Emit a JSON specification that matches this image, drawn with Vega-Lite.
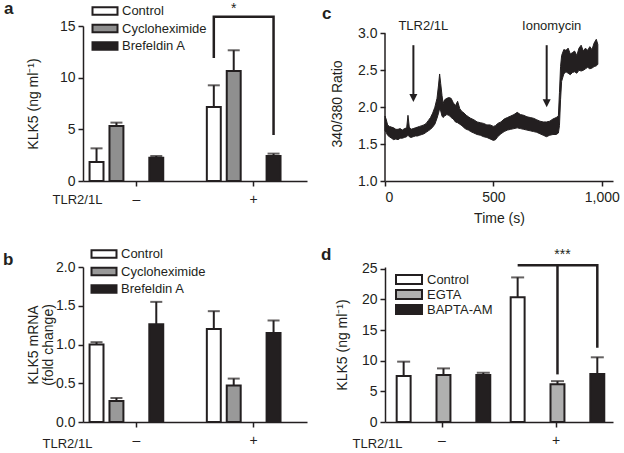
{
  "$schema": "https://vega.github.io/schema/vega-lite/v6.json",
  "padding": {"left": 3, "top": -1, "right": 0, "bottom": 0},
  "autosize": {"type": "pad"},
  "config": {
    "font": "Liberation Sans",
    "view": {"stroke": null},
    "axis": {"domainColor": "#231f20", "domainWidth": 1.5, "tickColor": "#231f20", "tickWidth": 1.5, "tickSize": 5, "labelFontSize": 14, "labelColor": "#231f20", "titleFontSize": 14, "titleFontWeight": "normal", "titleColor": "#231f20", "grid": false, "labelPadding": 3, "labelOverlap": false},
    "title": {"fontSize": 17, "fontWeight": "bold", "anchor": "start", "frame": "group", "color": "#231f20", "baseline": "alphabetic", "offset": 0},
    "legend": {"labelFontSize": 13, "labelColor": "#231f20", "padding": 0, "symbolStrokeColor": "#231f20", "symbolStrokeWidth": 2, "symbolSize": 100}
  },
  "resolve": {"scale": {"fill": "independent"}, "legend": {"fill": "independent"}},
  "datasets": {
    "a": [
      {"grp": "–", "trt": "Control", "v": 1.84, "hi": 3.16},
      {"grp": "–", "trt": "Cycloheximide", "v": 5.32, "hi": 5.65},
      {"grp": "–", "trt": "Brefeldin A", "v": 2.26, "hi": 2.42},
      {"grp": "+", "trt": "Control", "v": 7.16, "hi": 9.26},
      {"grp": "+", "trt": "Cycloheximide", "v": 10.65, "hi": 12.65},
      {"grp": "+", "trt": "Brefeldin A", "v": 2.42, "hi": 2.65}
    ],
    "b": [
      {"grp": "–", "trt": "Control", "v": 1.0, "hi": 1.03},
      {"grp": "–", "trt": "Cycloheximide", "v": 0.27, "hi": 0.31},
      {"grp": "–", "trt": "Brefeldin A", "v": 1.26, "hi": 1.55},
      {"grp": "+", "trt": "Control", "v": 1.2, "hi": 1.43},
      {"grp": "+", "trt": "Cycloheximide", "v": 0.47, "hi": 0.56},
      {"grp": "+", "trt": "Brefeldin A", "v": 1.15, "hi": 1.31}
    ],
    "d": [
      {"grp": "–", "trt": "Control", "v": 7.5, "hi": 9.85},
      {"grp": "–", "trt": "EGTA", "v": 7.66, "hi": 8.75},
      {"grp": "–", "trt": "BAPTA-AM", "v": 7.66, "hi": 8.04},
      {"grp": "+", "trt": "Control", "v": 20.35, "hi": 23.6},
      {"grp": "+", "trt": "EGTA", "v": 6.18, "hi": 6.67},
      {"grp": "+", "trt": "BAPTA-AM", "v": 7.82, "hi": 10.56}
    ],
    "trace": [
      {"t": 0, "lo": 1.68, "hi": 1.88}, {"t": 5, "lo": 1.66, "hi": 1.84}, {"t": 12, "lo": 1.62, "hi": 1.76},
      {"t": 20, "lo": 1.6, "hi": 1.74}, {"t": 30, "lo": 1.58, "hi": 1.73}, {"t": 40, "lo": 1.56, "hi": 1.72},
      {"t": 50, "lo": 1.57, "hi": 1.7}, {"t": 60, "lo": 1.56, "hi": 1.7}, {"t": 70, "lo": 1.58, "hi": 1.71},
      {"t": 80, "lo": 1.58, "hi": 1.69}, {"t": 90, "lo": 1.59, "hi": 1.71}, {"t": 100, "lo": 1.6, "hi": 1.72},
      {"t": 106, "lo": 1.62, "hi": 1.89}, {"t": 112, "lo": 1.6, "hi": 1.73}, {"t": 120, "lo": 1.59, "hi": 1.7},
      {"t": 130, "lo": 1.6, "hi": 1.71}, {"t": 140, "lo": 1.61, "hi": 1.72}, {"t": 150, "lo": 1.61, "hi": 1.73},
      {"t": 160, "lo": 1.62, "hi": 1.74}, {"t": 170, "lo": 1.63, "hi": 1.75}, {"t": 180, "lo": 1.64, "hi": 1.76},
      {"t": 190, "lo": 1.66, "hi": 1.78}, {"t": 200, "lo": 1.68, "hi": 1.82}, {"t": 210, "lo": 1.7, "hi": 1.86},
      {"t": 220, "lo": 1.73, "hi": 1.92}, {"t": 230, "lo": 1.77, "hi": 2.0}, {"t": 240, "lo": 1.85, "hi": 2.12},
      {"t": 247, "lo": 1.92, "hi": 2.3}, {"t": 252, "lo": 1.98, "hi": 2.45}, {"t": 257, "lo": 1.95, "hi": 2.32},
      {"t": 263, "lo": 1.88, "hi": 2.16}, {"t": 268, "lo": 1.86, "hi": 2.05}, {"t": 275, "lo": 1.88, "hi": 2.1},
      {"t": 285, "lo": 1.9, "hi": 2.12}, {"t": 295, "lo": 1.89, "hi": 2.13}, {"t": 305, "lo": 1.86, "hi": 2.12},
      {"t": 315, "lo": 1.84, "hi": 2.06}, {"t": 325, "lo": 1.8, "hi": 2.02}, {"t": 335, "lo": 1.79, "hi": 2.08},
      {"t": 345, "lo": 1.77, "hi": 1.98}, {"t": 355, "lo": 1.75, "hi": 1.94}, {"t": 365, "lo": 1.72, "hi": 1.92},
      {"t": 375, "lo": 1.7, "hi": 1.89}, {"t": 385, "lo": 1.69, "hi": 1.87}, {"t": 395, "lo": 1.67, "hi": 1.85},
      {"t": 410, "lo": 1.65, "hi": 1.83}, {"t": 425, "lo": 1.63, "hi": 1.8}, {"t": 440, "lo": 1.62, "hi": 1.79},
      {"t": 455, "lo": 1.6, "hi": 1.78}, {"t": 470, "lo": 1.59, "hi": 1.76}, {"t": 485, "lo": 1.57, "hi": 1.76},
      {"t": 500, "lo": 1.55, "hi": 1.74}, {"t": 510, "lo": 1.56, "hi": 1.75}, {"t": 520, "lo": 1.6, "hi": 1.78},
      {"t": 535, "lo": 1.64, "hi": 1.8}, {"t": 550, "lo": 1.67, "hi": 1.84}, {"t": 565, "lo": 1.69, "hi": 1.86},
      {"t": 580, "lo": 1.7, "hi": 1.88}, {"t": 595, "lo": 1.71, "hi": 1.9}, {"t": 610, "lo": 1.72, "hi": 1.93},
      {"t": 625, "lo": 1.71, "hi": 1.9}, {"t": 640, "lo": 1.7, "hi": 1.89}, {"t": 655, "lo": 1.69, "hi": 1.87},
      {"t": 670, "lo": 1.68, "hi": 1.86}, {"t": 685, "lo": 1.67, "hi": 1.85}, {"t": 700, "lo": 1.66, "hi": 1.83},
      {"t": 715, "lo": 1.64, "hi": 1.81}, {"t": 730, "lo": 1.62, "hi": 1.8}, {"t": 745, "lo": 1.6, "hi": 1.8},
      {"t": 760, "lo": 1.62, "hi": 1.81}, {"t": 775, "lo": 1.63, "hi": 1.84}, {"t": 790, "lo": 1.63, "hi": 1.86},
      {"t": 800, "lo": 1.65, "hi": 1.88}, {"t": 805, "lo": 1.75, "hi": 2.2}, {"t": 810, "lo": 2.1, "hi": 2.55},
      {"t": 815, "lo": 2.35, "hi": 2.7}, {"t": 825, "lo": 2.45, "hi": 2.78}, {"t": 835, "lo": 2.48, "hi": 2.77},
      {"t": 845, "lo": 2.46, "hi": 2.8}, {"t": 855, "lo": 2.44, "hi": 2.72}, {"t": 865, "lo": 2.47, "hi": 2.74},
      {"t": 875, "lo": 2.48, "hi": 2.76}, {"t": 885, "lo": 2.46, "hi": 2.7}, {"t": 895, "lo": 2.5, "hi": 2.8},
      {"t": 905, "lo": 2.49, "hi": 2.84}, {"t": 915, "lo": 2.5, "hi": 2.76}, {"t": 925, "lo": 2.52, "hi": 2.8},
      {"t": 935, "lo": 2.54, "hi": 2.77}, {"t": 945, "lo": 2.52, "hi": 2.82}, {"t": 955, "lo": 2.53, "hi": 2.78},
      {"t": 965, "lo": 2.55, "hi": 2.87}, {"t": 975, "lo": 2.56, "hi": 2.92}, {"t": 982, "lo": 2.58, "hi": 2.85}
    ]
  },
  "columns": 2,
  "spacing": {"row": 86, "column": 78},
  "bounds": "flush",
  "align": "each",
  "concat": [
    {
      "width": 224, "height": 155,
      "title": {"text": "a", "dx": -79, "dy": 19.5},
      "data": {"name": "a"},
      "encoding": {
        "x": {"field": "grp", "type": "nominal", "sort": ["–", "+"], "scale": {"paddingInner": 0.1, "paddingOuter": 0.005},
          "axis": {"title": "TLR2/1L", "titleX": -31, "titleY": 18, "titleAlign": "left", "titleBaseline": "middle", "titleFontSize": 13, "labelAngle": 0, "labelPadding": 6}},
        "xOffset": {"field": "trt", "type": "nominal", "sort": ["Control", "Cycloheximide", "Brefeldin A"], "scale": {"paddingInner": 0.3, "paddingOuter": 0.3}}
      },
      "layer": [
        {"mark": {"type": "rule", "color": "#231f20", "strokeWidth": 2},
          "encoding": {"y": {"field": "v", "type": "quantitative", "title": "KLK5 (ng ml⁻¹)", "scale": {"domain": [0, 15], "nice": false},
            "axis": {"values": [0, 5, 10, 15], "tickCount": 20, "titleX": -50, "titleBaseline": "middle"}}, "y2": {"field": "hi"}}},
        {"mark": {"type": "tick", "orient": "horizontal", "size": 12, "thickness": 2, "color": "#231f20"},
          "encoding": {"y": {"field": "hi", "type": "quantitative", "title": "KLK5 (ng ml⁻¹)", "axis": {"tickCount": 20}}}},
        {"mark": {"type": "bar", "stroke": "#231f20", "strokeWidth": 2},
          "encoding": {"y": {"field": "v", "type": "quantitative", "title": "KLK5 (ng ml⁻¹)", "axis": {"tickCount": 20}},
            "fill": {"field": "trt", "type": "nominal", "sort": ["Control", "Cycloheximide", "Brefeldin A"], "scale": {"domain": ["Control", "Cycloheximide", "Brefeldin A"], "range": ["#ffffff", "#8f8f8f", "#231f20"]},
              "legend": {"orient": "none", "legendX": 15.5, "legendY": -21.5, "title": null, "symbolType": "M-2.5,-0.75H2.5V0.75H-2.5Z", "labelOffset": 10.5, "rowPadding": 0.5}}}},
        {"data": {"values": [
          {"grp": "+", "trt": "Control", "v": 11.9, "o": 1},
          {"grp": "+", "trt": "Control", "v": 15.9, "o": 2},
          {"grp": "+", "trt": "Brefeldin A", "v": 15.9, "o": 3},
          {"grp": "+", "trt": "Brefeldin A", "v": 4.45, "o": 4}]},
          "mark": {"type": "line", "color": "#231f20", "strokeWidth": 2.5},
          "encoding": {"y": {"field": "v", "type": "quantitative", "title": "KLK5 (ng ml⁻¹)", "axis": {"tickCount": 20}}, "order": {"field": "o"}}},
        {"data": {"values": [{"grp": "+", "trt": "Cycloheximide", "v": 16.6, "s": "*"}]},
          "mark": {"type": "text", "fontSize": 14, "color": "#231f20", "baseline": "middle"},
          "encoding": {"y": {"field": "v", "type": "quantitative", "title": "KLK5 (ng ml⁻¹)", "axis": {"tickCount": 20}}, "text": {"field": "s"}}}
      ]
    },
    {
      "width": 228, "height": 155,
      "title": {"text": "c", "dx": -63, "dy": 7},
      "layer": [
        {"data": {"name": "trace"},
          "mark": {"type": "area", "color": "#231f20", "stroke": "#231f20", "strokeWidth": 1},
          "encoding": {
            "x": {"field": "t", "type": "quantitative", "title": "Time (s)", "scale": {"domain": [0, 1052], "nice": false},
              "axis": {"values": [0, 500, 1000], "tickCount": 20, "format": ",.0f", "titleY": 37, "titleBaseline": "middle", "labelPadding": 4}},
            "y": {"field": "lo", "type": "quantitative", "title": "340/380 Ratio", "scale": {"domain": [1, 3.1], "nice": false},
              "axis": {"values": [1, 1.5, 2, 2.5, 3], "tickCount": 20, "format": ".1f", "domain": false, "titleX": -48, "titleBaseline": "middle"}},
            "y2": {"field": "hi"}}},
        {"data": {"values": [{"t": 0, "a": 1, "b": 3}]},
          "mark": {"type": "rule", "color": "#231f20", "strokeWidth": 1.5},
          "encoding": {"x": {"field": "t", "type": "quantitative", "title": "Time (s)", "axis": {"tickCount": 20}}, "y": {"field": "a", "type": "quantitative", "title": "340/380 Ratio", "axis": {"tickCount": 20}}, "y2": {"field": "b"}}},
        {"data": {"values": [{"t": 131, "top": 2.84, "hy": 2.125}, {"t": 746, "top": 2.84, "hy": 2.055}]},
          "mark": {"type": "rule", "color": "#231f20", "strokeWidth": 2},
          "encoding": {"x": {"field": "t", "type": "quantitative", "title": "Time (s)", "axis": {"tickCount": 20}}, "y": {"field": "top", "type": "quantitative", "title": "340/380 Ratio", "axis": {"tickCount": 20}}, "y2": {"field": "hy"}}},
        {"data": {"values": [{"t": 131, "hy": 2.125}, {"t": 746, "hy": 2.055}]},
          "mark": {"type": "point", "shape": "M-1,-1L1,-1L0,1Z", "size": 64, "filled": true, "color": "#231f20", "opacity": 1},
          "encoding": {"x": {"field": "t", "type": "quantitative", "title": "Time (s)", "axis": {"tickCount": 20}}, "y": {"field": "hy", "type": "quantitative", "title": "340/380 Ratio", "axis": {"tickCount": 20}}}},
        {"data": {"values": [{"t": 177, "y": 3.1, "s": "TLR2/1L"}, {"t": 769, "y": 3.1, "s": "Ionomycin"}]},
          "mark": {"type": "text", "fontSize": 13, "color": "#231f20", "baseline": "middle"},
          "encoding": {"x": {"field": "t", "type": "quantitative", "title": "Time (s)", "axis": {"tickCount": 20}}, "y": {"field": "y", "type": "quantitative", "title": "340/380 Ratio", "axis": {"tickCount": 20}}, "text": {"field": "s"}}}
      ]
    },
    {
      "width": 224, "height": 155,
      "title": {"text": "b", "dx": -80, "dy": 25},
      "data": {"name": "b"},
      "encoding": {
        "x": {"field": "grp", "type": "nominal", "sort": ["–", "+"], "scale": {"paddingInner": 0.1, "paddingOuter": 0.005},
          "axis": {"title": "TLR2/1L", "titleX": -41, "titleY": 21, "titleAlign": "left", "titleBaseline": "middle", "titleFontSize": 13, "labelAngle": 0, "labelPadding": 6}},
        "xOffset": {"field": "trt", "type": "nominal", "sort": ["Control", "Cycloheximide", "Brefeldin A"], "scale": {"paddingInner": 0.3, "paddingOuter": 0.3}}
      },
      "layer": [
        {"mark": {"type": "rule", "color": "#231f20", "strokeWidth": 2},
          "encoding": {"y": {"field": "v", "type": "quantitative", "title": ["KLK5 mRNA", "(fold change)"], "scale": {"domain": [0, 2], "nice": false},
            "axis": {"values": [0, 0.5, 1, 1.5, 2], "tickCount": 20, "format": ".1f", "titleX": -50, "titleBaseline": "middle", "titleLineHeight": 15}}, "y2": {"field": "hi"}}},
        {"mark": {"type": "tick", "orient": "horizontal", "size": 12, "thickness": 2, "color": "#231f20"},
          "encoding": {"y": {"field": "hi", "type": "quantitative", "title": ["KLK5 mRNA", "(fold change)"], "axis": {"tickCount": 20}}}},
        {"mark": {"type": "bar", "stroke": "#231f20", "strokeWidth": 2},
          "encoding": {"y": {"field": "v", "type": "quantitative", "title": ["KLK5 mRNA", "(fold change)"], "axis": {"tickCount": 20}},
            "fill": {"field": "trt", "type": "nominal", "sort": ["Control", "Cycloheximide", "Brefeldin A"], "scale": {"domain": ["Control", "Cycloheximide", "Brefeldin A"], "range": ["#ffffff", "#999999", "#231f20"]},
              "legend": {"orient": "none", "legendX": 14.5, "legendY": -19.5, "title": null, "symbolType": "M-2.5,-0.75H2.5V0.75H-2.5Z", "labelOffset": 10.5, "rowPadding": 0.5}}}}
      ]
    },
    {
      "width": 228, "height": 155,
      "title": {"text": "d", "dx": -64, "dy": 20},
      "data": {"name": "d"},
      "encoding": {
        "x": {"field": "grp", "type": "nominal", "sort": ["–", "+"], "scale": {"paddingInner": 0.1, "paddingOuter": 0.05},
          "axis": {"title": "TLR2/1L", "titleX": -33, "titleY": 21, "titleAlign": "left", "titleBaseline": "middle", "titleFontSize": 13, "labelAngle": 0, "labelPadding": 6}},
        "xOffset": {"field": "trt", "type": "nominal", "sort": ["Control", "EGTA", "BAPTA-AM"], "scale": {"paddingInner": 0.29, "paddingOuter": 0.31}}
      },
      "layer": [
        {"mark": {"type": "rule", "color": "#231f20", "strokeWidth": 2},
          "encoding": {"y": {"field": "v", "type": "quantitative", "title": "KLK5 (ng ml⁻¹)", "scale": {"domain": [0, 25.3], "nice": false},
            "axis": {"values": [0, 5, 10, 15, 20, 25], "tickCount": 20, "titleX": -43, "titleBaseline": "middle"}}, "y2": {"field": "hi"}}},
        {"mark": {"type": "tick", "orient": "horizontal", "size": 13, "thickness": 2, "color": "#231f20"},
          "encoding": {"y": {"field": "hi", "type": "quantitative", "title": "KLK5 (ng ml⁻¹)", "axis": {"tickCount": 20}}}},
        {"mark": {"type": "bar", "stroke": "#231f20", "strokeWidth": 2},
          "encoding": {"y": {"field": "v", "type": "quantitative", "title": "KLK5 (ng ml⁻¹)", "axis": {"tickCount": 20}},
            "fill": {"field": "trt", "type": "nominal", "sort": ["Control", "EGTA", "BAPTA-AM"], "scale": {"domain": ["Control", "EGTA", "BAPTA-AM"], "range": ["#ffffff", "#b0b0b0", "#231f20"]},
              "legend": {"orient": "none", "legendX": 17.5, "legendY": 6, "title": null, "symbolType": "M-2.6,-0.9H2.6V0.9H-2.6Z", "labelOffset": 11.5, "rowPadding": -2}}}},
        {"data": {"values": [
          {"grp": "+", "trt": "Control", "v": 25.6, "o": 1, "seg": 1},
          {"grp": "+", "trt": "BAPTA-AM", "v": 25.6, "o": 2, "seg": 1},
          {"grp": "+", "trt": "BAPTA-AM", "v": 12.1, "o": 3, "seg": 1},
          {"grp": "+", "trt": "EGTA", "v": 25.6, "o": 1, "seg": 2},
          {"grp": "+", "trt": "EGTA", "v": 7.77, "o": 2, "seg": 2}]},
          "mark": {"type": "line", "color": "#231f20", "strokeWidth": 2.5},
          "encoding": {"y": {"field": "v", "type": "quantitative", "title": "KLK5 (ng ml⁻¹)", "axis": {"tickCount": 20}}, "order": {"field": "o"}, "detail": {"field": "seg"}}},
        {"data": {"values": [{"grp": "+", "trt": "EGTA", "v": 27.3, "s": "***"}]},
          "mark": {"type": "text", "fontSize": 14, "color": "#231f20", "baseline": "middle", "dx": 5},
          "encoding": {"y": {"field": "v", "type": "quantitative", "title": "KLK5 (ng ml⁻¹)", "axis": {"tickCount": 20}}, "text": {"field": "s"}}}
      ]
    }
  ]
}
